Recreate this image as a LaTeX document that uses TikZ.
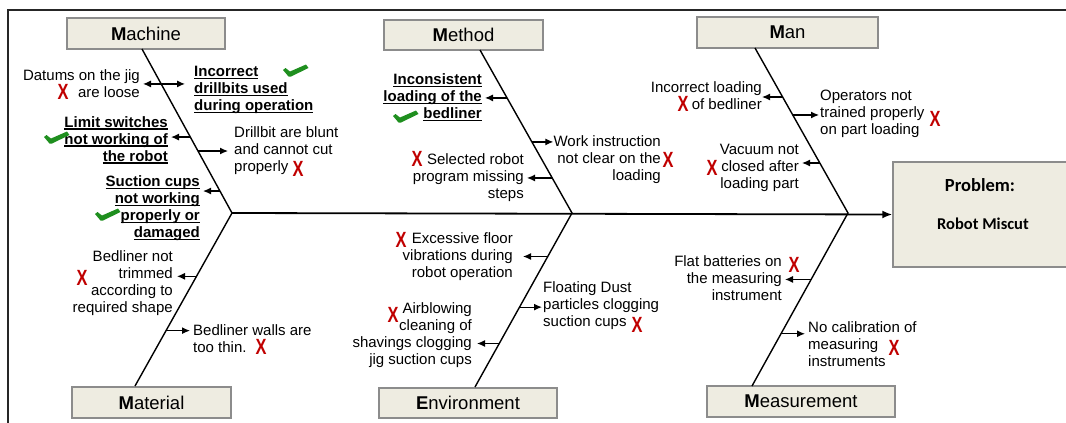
\documentclass[tikz,border=0pt]{standalone}
\usepackage{fontspec}
\setmainfont{Liberation Sans}
\newfontfamily\calibri{Carlito}
\usetikzlibrary{arrows.meta,calc}
\definecolor{boxfill}{HTML}{EEECE1}
\definecolor{boxline}{HTML}{8C8C8C}
\definecolor{xred}{HTML}{C00000}
\definecolor{chkgreen}{HTML}{1F8F1F}
\newcommand\ulx[1]{\setbox0\hbox{#1}\rlap{\rule[-2.3pt]{\wd0}{1.3pt}}\box0}
\newcommand\rx{\scalebox{0.82}[1.1]{X}}
\tikzset{
 catbox/.style={draw=boxline, line width=1.5pt, fill=boxfill, font=\fontsize{18.5}{22}\selectfont, inner sep=0pt},
 bone/.style={line width=1.4pt},
 br/.style={line width=1.2pt, -{Latex[length=8pt,width=7pt]}, shorten >=3pt},
 lbl/.style={font=\fontsize{15}{17}\selectfont, inner sep=0pt},
 lblL/.style={lbl, align=left, anchor=west},
 lblR/.style={lbl, align=right, anchor=east},
 bl/.style={font=\fontsize{15}{17}\selectfont\bfseries},
 xmark/.style={text=xred, inner sep=0pt, font=\fontsize{20}{20}\selectfont\bfseries},
 pics/chkmark/.style={code={\fill[chkgreen] (0,4) -- (2.5,2) -- (7,5.5) -- (23,-1.5) -- (25.5,2) -- (8,10.5) -- (5.5,10.5) -- cycle;}}
}
\begin{document}
\begin{tikzpicture}[x=1pt,y=-1pt]
\clip (0,0) rectangle (1066,423);
\useasboundingbox (0,0) rectangle (1066,423);
% frame
\draw[line width=2pt, black!85] (1070,10) -- (8,10) -- (8,430);
% category boxes
\node[catbox, minimum width=158pt, minimum height=31pt] (mach) at (146,33.5) {\textbf{M}achine};
\node[catbox, minimum width=159pt, minimum height=30pt] (meth) at (463.5,35) {\textbf{M}ethod};
\node[catbox, minimum width=181pt, minimum height=31pt] (man) at (787.5,32.5) {\textbf{M}an};
\node[catbox, minimum width=159pt, minimum height=31pt] (mat) at (151.5,402.5) {\textbf{M}aterial};
\node[catbox, minimum width=178pt, minimum height=30pt] (env) at (468,403) {\textbf{E}nvironment};
\node[catbox, minimum width=188pt, minimum height=31pt] (meas) at (801,401.5) {\textbf{M}easurement};
% problem box
\node[draw=boxline, line width=1.5pt, fill=boxfill, minimum width=177pt, minimum height=105pt, inner sep=0pt] (prob) at (981.5,214.5) {};
\node[inner sep=0pt, font=\calibri\bfseries\fontsize{18.5}{20}\selectfont] (probt) at (980,185) {Problem:};
\node[inner sep=0pt, font=\calibri\bfseries\fontsize{16.5}{18}\selectfont] (probn) at (983,224) {Robot Miscut};
% joints and bone ends
\coordinate (J1) at (232,213);
\coordinate (J2) at (572,213);
\coordinate (J3) at (848,213);
\coordinate (machE) at (142,49);
\coordinate (methE) at (480,50);
\coordinate (manE) at (755,48);
\coordinate (matE) at (135,386);
\coordinate (envE) at (475,387);
\coordinate (measE) at (752,386);
% spine and bones
\draw[line width=1.8pt, -{Latex[length=10pt,width=8pt]}] (J1) -- (prob.west);
\draw[bone] (machE) -- (J1) -- (matE);
\draw[bone] (methE) -- (J2) -- (envE);
\draw[bone] (manE) -- (J3) -- (measE);
% ---------- Machine ----------
\node[lblR] (t1) at (140,83.5) {Datums on the jig\\are loose};
\node[lblL, bl] (t2) at (194,90) {\ulx{Incorrect}\\\ulx{drillbits used}\\\ulx{during operation}};
\node[lblR, bl] (t3) at (168,140) {\ulx{Limit switches}\\\ulx{not working of}\\\ulx{the robot}};
\node[lblL] (t4) at (234,151) {Drillbit are blunt\\and cannot cut\\properly};
\node[lblR, bl] (t5) at (200,208.5) {\ulx{Suction cups}\\\ulx{not working}\\\ulx{properly or}\\\ulx{damaged}};
\coordinate (b1) at ($(machE)!0.213!(J1)$);
\coordinate (b3) at ($(machE)!0.537!(J1)$);
\coordinate (b4) at ($(machE)!0.622!(J1)$);
\coordinate (b5) at ($(machE)!0.866!(J1)$);
\draw[br] (b1) -- (b1 -| t1.east);
\draw[br, shorten >=9pt] (b1) -- (b1 -| t2.west);
\draw[br] (b3) -- (b3 -| t3.east);
\draw[br, shorten >=6pt] (b4) -- (b4 -| t4.west);
\draw[br] (b5) -- (b5 -| t5.east);
% ---------- Material ----------
\node[lblR] (t6) at (173,283.5) {Bedliner not\\trimmed\\according to\\required shape};
\node[lblL] (t7) at (193,338.5) {Bedliner walls are\\too thin.};
\coordinate (b6) at ($(J1)!0.366!(matE)$);
\coordinate (b7) at ($(J1)!0.680!(matE)$);
\draw[br, shorten >=4pt] (b6) -- (b6 -| t6.east);
\draw[br] (b7) -- (b7 -| t7.west);
% ---------- Method ----------
\node[lblR, bl] (t8) at (482,97.5) {\ulx{Inconsistent}\\\ulx{loading of the}\\\ulx{bedliner}};
\node[lblR] (t9) at (661,159.5) {Work instruction\\not clear on the\\loading};
\node[lblR] (t10) at (524,178) {Selected robot\\program missing\\steps};
\coordinate (b8) at ($(methE)!0.294!(J2)$);
\coordinate (b9) at ($(methE)!0.564!(J2)$);
\coordinate (b10) at ($(methE)!0.785!(J2)$);
\draw[br] (b8) -- (b8 -| t8.east);
\draw[br, shorten >=0pt] (b9) -- (b9 -| t9.west);
\draw[br] (b10) -- (b10 -| t10.east);
% ---------- Environment ----------
\node[lblR] (t11) at (513,257) {Excessive floor\\vibrations during\\robot operation};
\node[lblL] (t12) at (543,305.5) {Floating Dust\\particles clogging\\suction cups};
\node[lblR] (t13) at (472,335) {Airblowing\\cleaning of\\shavings clogging\\jig suction cups};
\coordinate (b11) at ($(J2)!0.25!(envE)$);
\coordinate (b12) at ($(J2)!0.541!(envE)$);
\coordinate (b13) at ($(J2)!0.75!(envE)$);
\draw[br, shorten >=10pt] (b11) -- (b11 -| t11.east);
\draw[br, shorten >=1pt] (b12) -- (b12 -| t12.west);
\draw[br, shorten >=5pt] (b13) -- (b13 -| t13.east);
% ---------- Man ----------
\node[lblR] (t14) at (762,95.5) {Incorrect loading\\of bedliner};
\node[lblL] (t15) at (820,113.5) {Operators not\\trained properly\\on part loading};
\node[lblR] (t16) at (799,168) {Vacuum not\\closed after\\loading part};
\coordinate (b14) at ($(manE)!0.297!(J3)$);
\coordinate (b15) at ($(manE)!0.406!(J3)$);
\coordinate (b16) at ($(manE)!0.697!(J3)$);
\draw[br, shorten >=0pt] (b14) -- (b14 -| t14.east);
\draw[br, shorten >=1pt] (b15) -- (b15 -| t15.west);
\draw[br] (b16) -- (b16 -| t16.east);
% ---------- Measurement ----------
\node[lblR] (t17) at (782,278.5) {Flat batteries on\\the measuring\\instrument};
\node[lblL] (t18) at (808,344.5) {No calibration of\\measuring\\instruments};
\coordinate (b17) at ($(J3)!0.384!(measE)$);
\coordinate (b18) at ($(J3)!0.698!(measE)$);
\draw[br] (b17) -- (b17 -| t17.east);
\draw[br] (b18) -- (b18 -| t18.west);
% ---------- red X marks ----------
\node[xmark] (x1) at (63,92) {\rx};
\node[xmark] (x4) at (298,169) {\rx};
\node[xmark] (x6) at (82,278) {\rx};
\node[xmark] (x7) at (261,347) {\rx};
\node[xmark] (x9) at (668,160) {\rx};
\node[xmark] (x10) at (417,159) {\rx};
\node[xmark] (x11) at (401,240) {\rx};
\node[xmark] (x12) at (637,325) {\rx};
\node[xmark] (x13) at (393,315) {\rx};
\node[xmark] (x14) at (683,104) {\rx};
\node[xmark] (x15) at (935,119) {\rx};
\node[xmark] (x16) at (712,168) {\rx};
\node[xmark] (x17) at (794,265) {\rx};
\node[xmark] (x18) at (894,348) {\rx};
% ---------- green check marks ----------
\pic at (283,66) {chkmark};
\pic at (44,133) {chkmark};
\pic at (95,210) {chkmark};
\pic at (393,112) {chkmark};
\end{tikzpicture}
\end{document}
